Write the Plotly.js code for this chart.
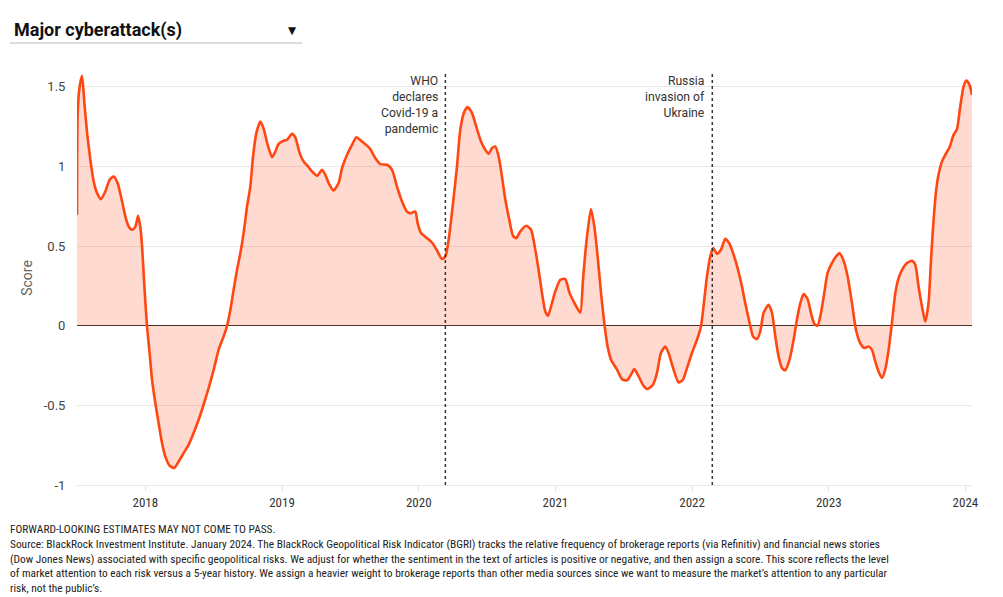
<!DOCTYPE html>
<html>
<head>
<meta charset="utf-8">
<script src="https://cdn.plot.ly/plotly-3.0.1.min.js"></script>
<style>
  html, body { margin: 0; padding: 0; background: #fff; }
  #chart { width: 1003px; height: 597px; }
</style>
</head>
<body>
<div id="chart"></div>
<script>
// Time as decimal years, score values
const years = [
  2017.500, 2017.505, 2017.519, 2017.537, 2017.554, 2017.574, 2017.598, 2017.622, 2017.647, 2017.676,
  2017.707, 2017.739, 2017.768, 2017.797, 2017.830, 2017.854, 2017.878, 2017.903, 2017.927, 2017.947,
  2017.963, 2017.976, 2017.993, 2018.012, 2018.031, 2018.049, 2018.073, 2018.097, 2018.122, 2018.146,
  2018.178, 2018.212, 2018.244, 2018.280, 2018.317, 2018.353, 2018.390, 2018.426, 2018.463, 2018.500,
  2018.536, 2018.573, 2018.598, 2018.622, 2018.646, 2018.671, 2018.695, 2018.719, 2018.744, 2018.768,
  2018.788, 2018.812, 2018.841, 2018.865, 2018.895, 2018.927, 2018.951, 2018.975, 2019.012, 2019.037,
  2019.073, 2019.097, 2019.129, 2019.158, 2019.187, 2019.219, 2019.256, 2019.293, 2019.317, 2019.341,
  2019.377, 2019.414, 2019.439, 2019.475, 2019.512, 2019.544, 2019.585, 2019.641, 2019.683, 2019.719,
  2019.768, 2019.805, 2019.841, 2019.878, 2019.914, 2019.939, 2019.975, 2019.992, 2020.017, 2020.061,
  2020.097, 2020.134, 2020.170, 2020.195, 2020.219, 2020.251, 2020.280, 2020.304, 2020.334, 2020.358,
  2020.390, 2020.421, 2020.456, 2020.487, 2020.511, 2020.536, 2020.560, 2020.585, 2020.609, 2020.634,
  2020.663, 2020.690, 2020.714, 2020.743, 2020.787, 2020.822, 2020.853, 2020.877, 2020.902, 2020.926,
  2020.946, 2020.968, 2020.999, 2021.036, 2021.072, 2021.104, 2021.146, 2021.182, 2021.202, 2021.226,
  2021.260, 2021.285, 2021.309, 2021.334, 2021.360, 2021.382, 2021.407, 2021.451, 2021.487, 2021.524,
  2021.553, 2021.577, 2021.609, 2021.645, 2021.674, 2021.714, 2021.743, 2021.772, 2021.804, 2021.828,
  2021.865, 2021.901, 2021.933, 2021.967, 2021.999, 2022.036, 2022.065, 2022.089, 2022.109, 2022.133,
  2022.155, 2022.182, 2022.211, 2022.243, 2022.274, 2022.304, 2022.333, 2022.365, 2022.389, 2022.421,
  2022.446, 2022.475, 2022.499, 2022.523, 2022.560, 2022.585, 2022.609, 2022.633, 2022.658, 2022.682,
  2022.713, 2022.743, 2022.767, 2022.792, 2022.816, 2022.845, 2022.870, 2022.894, 2022.918, 2022.943,
  2022.967, 2022.991, 2023.023, 2023.053, 2023.079, 2023.108, 2023.138, 2023.170, 2023.199, 2023.230,
  2023.260, 2023.291, 2023.316, 2023.340, 2023.364, 2023.389, 2023.413, 2023.438, 2023.462, 2023.487,
  2023.511, 2023.543, 2023.572, 2023.609, 2023.633, 2023.657, 2023.682, 2023.706, 2023.730, 2023.748,
  2023.767, 2023.786, 2023.803, 2023.828, 2023.852, 2023.884, 2023.913, 2023.938, 2023.962, 2023.986,
  2024.006, 2024.030, 2024.048
];
const scores = [
  0.697, 1.335, 1.500, 1.570, 1.400, 1.210, 1.040, 0.906, 0.833, 0.795,
  0.843, 0.917, 0.937, 0.896, 0.780, 0.686, 0.623, 0.603, 0.623, 0.690,
  0.620, 0.500, 0.247, 0.000, -0.170, -0.339, -0.485, -0.611, -0.736, -0.820,
  -0.879, -0.893, -0.852, -0.800, -0.747, -0.674, -0.590, -0.496, -0.391, -0.276,
  -0.151, -0.067, 0.000, 0.100, 0.226, 0.352, 0.456, 0.582, 0.749, 0.874,
  1.063, 1.210, 1.283, 1.240, 1.136, 1.059, 1.094, 1.142, 1.163, 1.168,
  1.205, 1.184, 1.084, 1.031, 1.004, 0.969, 0.942, 0.979, 0.948, 0.896,
  0.850, 0.896, 0.990, 1.073, 1.136, 1.184, 1.157, 1.115, 1.052, 1.015,
  1.011, 0.979, 0.874, 0.780, 0.717, 0.707, 0.717, 0.645, 0.582, 0.550,
  0.523, 0.473, 0.419, 0.435, 0.540, 0.770, 1.000, 1.230, 1.345, 1.373,
  1.335, 1.251, 1.157, 1.105, 1.080, 1.115, 1.126, 1.063, 0.937, 0.791,
  0.665, 0.565, 0.550, 0.592, 0.628, 0.603, 0.477, 0.352, 0.205, 0.090,
  0.063, 0.121, 0.215, 0.289, 0.293, 0.205, 0.132, 0.083, 0.289, 0.519,
  0.733, 0.623, 0.435, 0.205, 0.000, -0.130, -0.213, -0.276, -0.335, -0.343,
  -0.308, -0.272, -0.318, -0.377, -0.397, -0.370, -0.297, -0.171, -0.130, -0.171,
  -0.276, -0.356, -0.339, -0.255, -0.171, -0.088, -0.004, 0.163, 0.310, 0.435,
  0.488, 0.452, 0.477, 0.546, 0.515, 0.446, 0.362, 0.247, 0.142, 0.017,
  -0.067, -0.084, -0.036, 0.080, 0.132, 0.080, -0.067, -0.193, -0.266, -0.280,
  -0.213, -0.088, 0.038, 0.142, 0.199, 0.168, 0.080, 0.013, 0.000, 0.080,
  0.205, 0.331, 0.394, 0.435, 0.456, 0.410, 0.310, 0.142, -0.025, -0.109,
  -0.140, -0.130, -0.151, -0.224, -0.287, -0.328, -0.276, -0.151, 0.017, 0.205,
  0.299, 0.362, 0.394, 0.408, 0.383, 0.247, 0.121, 0.027, 0.142, 0.414,
  0.665, 0.854, 0.948, 1.031, 1.073, 1.121, 1.199, 1.235, 1.377, 1.502,
  1.540, 1.513, 1.450
];
const tickYears = [2018, 2019, 2020, 2021, 2022, 2023, 2024];
const tickLabels = ['2018', '2019', '2020', '2021', '2022', '2023', '2024'];
const yTicks = [-1, -0.5, 0, 0.5, 1, 1.5];
const yTickLabels = ['-1', '-0.5', '0', '0.5', '1', '1.5'];
const eventYears = [2020.195, 2022.148];
const eventLabels = ['WHO<br>declares<br>Covid-19 a<br>pandemic', 'Russia<br>invasion of<br>Ukraine'];
const chartTitle = 'Major cyberattack(s)';
const footnote = [
  'FORWARD-LOOKING ESTIMATES MAY NOT COME TO PASS.',
  'Source: BlackRock Investment Institute. January 2024. The BlackRock Geopolitical Risk Indicator (BGRI) tracks the relative frequency of brokerage reports (via Refinitiv) and financial news stories',
  '(Dow Jones News) associated with specific geopolitical risks. We adjust for whether the sentiment in the text of articles is positive or negative, and then assign a score. This score reflects the level',
  'of market attention to each risk versus a 5-year history. We assign a heavier weight to brokerage reports than other media sources since we want to measure the market\u2019s attention to any particular',
  'risk, not the public\u2019s.'
];

const NARROW = '"Liberation Sans Narrow", "Roboto Condensed", "Arial Narrow", Roboto, sans-serif';

const trace = {
  x: years,
  y: scores,
  type: 'scatter',
  mode: 'lines',
  line: { color: '#ff4713', width: 2.6, shape: 'spline', smoothing: 0.6 },
  fill: 'tozeroy',
  fillcolor: 'rgba(255,71,19,0.2)',
  hoverinfo: 'skip'
};

const shapes = eventYears.map(x => ({
  type: 'line', xref: 'x', yref: 'paper', x0: x, x1: x, y0: 0, y1: 1,
  line: { color: '#333', width: 1.5, dash: 'dot' }, layer: 'above'
}));
shapes.push({
  type: 'line', xref: 'paper', yref: 'paper', x0: -0.0749, x1: 0.2514, y0: 1.0676, y1: 1.0676,
  line: { color: '#bbbbbb', width: 1 }
});

const annotations = eventYears.map((x, i) => ({
  x: x, xref: 'x', y: 1, yref: 'paper', xanchor: 'right', yanchor: 'top',
  xshift: -5, yshift: -1, align: 'right', showarrow: false,
  text: eventLabels[i],
  font: { family: 'Roboto, sans-serif', size: 12.2, color: '#333' }
}));
annotations.push({
  x: -0.0726, xref: 'paper', y: 1.099, yref: 'paper', xanchor: 'left', yanchor: 'middle',
  showarrow: false, text: '<b>' + chartTitle + '</b>',
  font: { family: 'Roboto, sans-serif', size: 18, color: '#111' }
});
annotations.push({
  x: 0.2408, xref: 'paper', y: 1.1, yref: 'paper', xanchor: 'center', yanchor: 'middle',
  showarrow: false, text: '\u25BC',
  font: { family: 'DejaVu Sans, sans-serif', size: 10.5, color: '#111' }
});
annotations.push({
  x: -0.0771, xref: 'paper', y: -0.0845, yref: 'paper', xanchor: 'left', yanchor: 'top',
  align: 'left', showarrow: false, text: footnote.join('<br>'),
  font: { family: NARROW, size: 11.4, color: '#222' }
});

const layout = {
  width: 1003, height: 597,
  margin: { l: 77, r: 31, t: 71, b: 112, pad: 0 },
  paper_bgcolor: '#fff', plot_bgcolor: '#fff',
  showlegend: false,
  hovermode: false,
  xaxis: {
    range: [2017.5, 2024.048],
    tickvals: tickYears, ticktext: tickLabels,
    showgrid: false, zeroline: false,
    ticks: 'outside', ticklen: 5, tickcolor: '#e0e0e0',
    showline: true, linecolor: '#e8e8e8', linewidth: 1,
    tickfont: { family: NARROW, size: 13, color: '#333' }
  },
  yaxis: {
    range: [-1, 1.6],
    tickvals: yTicks, ticktext: yTickLabels,
    showgrid: true, gridcolor: '#e8e8e8', gridwidth: 1,
    zeroline: true, zerolinecolor: '#333', zerolinewidth: 1,
    ticks: 'outside', ticklen: 8, tickcolor: 'rgba(0,0,0,0)',
    tickfont: { family: 'Roboto, sans-serif', size: 13, color: '#444' },
    title: { text: 'Score', font: { family: 'Roboto, sans-serif', size: 14, color: '#666' }, standoff: 7 }
  },
  shapes: shapes,
  annotations: annotations
};

Plotly.newPlot('chart', [trace], layout, { displayModeBar: false, staticPlot: true });
</script>
</body>
</html>
